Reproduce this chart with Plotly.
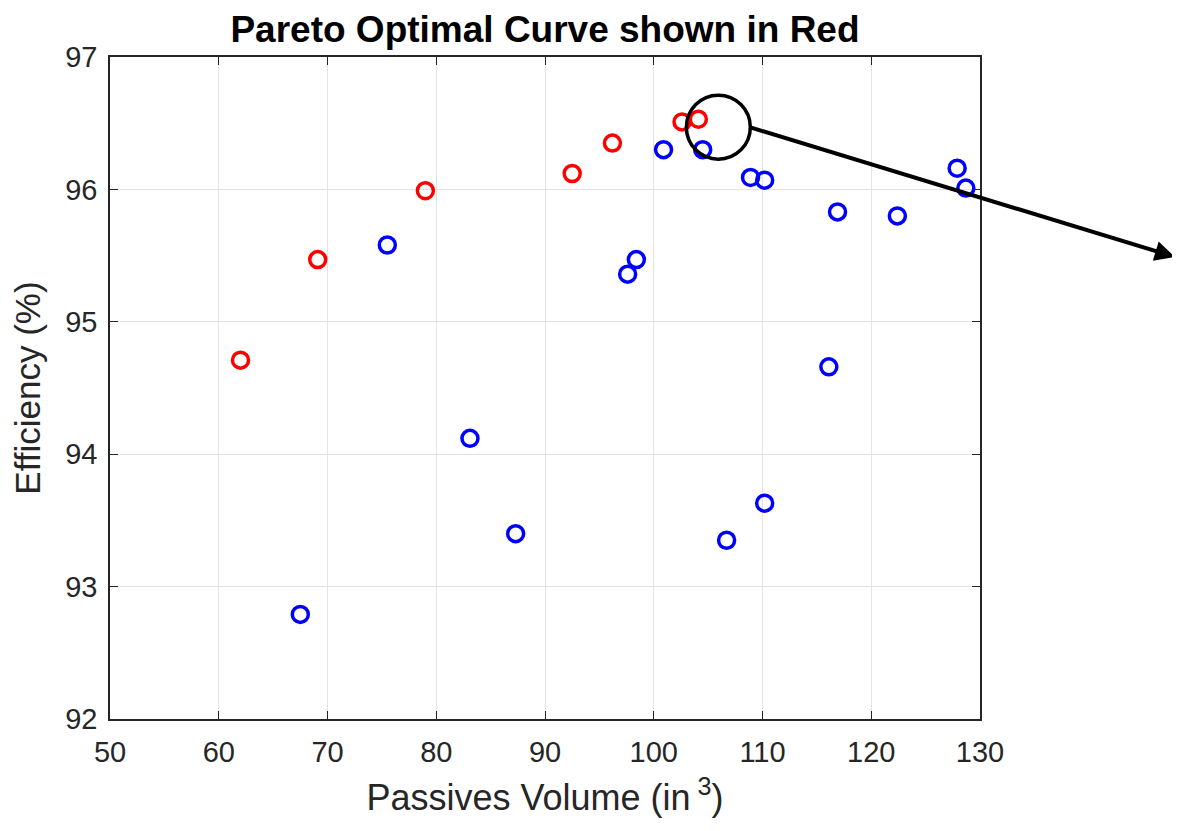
import plotly.graph_objects as go

# Pareto-optimal designs (red)
pareto_volume = [62.0, 69.1, 79.0, 92.5, 96.2, 102.6, 104.1]
pareto_eff = [94.71, 95.47, 95.99, 96.12, 96.35, 96.51, 96.53]

# Other designs (blue)
other_volume = [67.5, 75.5, 83.1, 87.3, 97.6, 98.4, 100.9, 104.5, 106.7, 108.9,
                110.2, 110.2, 116.1, 116.9, 122.4, 127.9, 128.7]
other_eff = [92.79, 95.58, 94.12, 93.40, 95.36, 95.47, 96.30, 96.30, 93.35, 96.09,
             96.07, 93.63, 94.66, 95.83, 95.80, 96.16, 96.01]

x_ticks = [50, 60, 70, 80, 90, 100, 110, 120, 130]
y_ticks = [92, 93, 94, 95, 96, 97]

# highlight circle (data coords)
circle_center = (105.94, 96.47)
circle_rx, circle_ry = 2.94, 0.242

FONT = "Liberation Sans, Arial, Helvetica"

fig = go.Figure()
fig.add_trace(go.Scatter(x=other_volume, y=other_eff, mode="markers",
                         marker=dict(symbol="circle-open", size=16, color="#0000ff",
                                     line=dict(width=3.5, color="#0000ff")),
                         showlegend=False, cliponaxis=False))
fig.add_trace(go.Scatter(x=pareto_volume, y=pareto_eff, mode="markers",
                         marker=dict(symbol="circle-open", size=16, color="#ff0000",
                                     line=dict(width=3.5, color="#ff0000")),
                         showlegend=False, cliponaxis=False))

fig.add_shape(type="circle", xref="x", yref="y",
              x0=circle_center[0] - circle_rx, x1=circle_center[0] + circle_rx,
              y0=circle_center[1] - circle_ry, y1=circle_center[1] + circle_ry,
              line=dict(color="black", width=3.5))

fig.add_annotation(xref="paper", yref="paper", x=1.224, y=0.698,
                   axref="pixel", ayref="pixel", ax=-426, ay=-130,
                   showarrow=True, arrowhead=2, arrowsize=1, arrowwidth=4,
                   arrowcolor="black", text="")

axis_common = dict(showline=True, linecolor="#262626", linewidth=1.5, mirror="ticks",
                   ticks="inside", ticklen=8, tickwidth=1.2, tickcolor="#262626",
                   showgrid=True, gridcolor="#e3e3e3", gridwidth=1, zeroline=False,
                   tickfont=dict(family=FONT, size=29, color="#262626"))

fig.update_xaxes(range=[50, 130], tickvals=x_ticks, ticktext=[str(v) for v in x_ticks],
                 ticklabelstandoff=6,
                 title=dict(text="Passives Volume (in<sup> 3</sup>)", standoff=18,
                            font=dict(family=FONT, size=36, color="#262626")),
                 **axis_common)
fig.update_yaxes(range=[92, 97], tickvals=y_ticks, ticktext=[str(v) for v in y_ticks],
                 ticklabelstandoff=5,
                 title=dict(text="Efficiency (%)", standoff=14,
                            font=dict(family=FONT, size=35, color="#262626")),
                 **axis_common)

fig.update_layout(
    width=1180, height=831,
    margin=dict(l=102, r=208, t=49, b=120),
    paper_bgcolor="white", plot_bgcolor="white",
    title=dict(text="<b>Pareto Optimal Curve shown in Red</b>", x=537 / 1180, xanchor="center",
               y=1 - 21 / 831, yanchor="middle",
               font=dict(family=FONT, size=37, color="black")),
)

fig.write_html("out.html")
